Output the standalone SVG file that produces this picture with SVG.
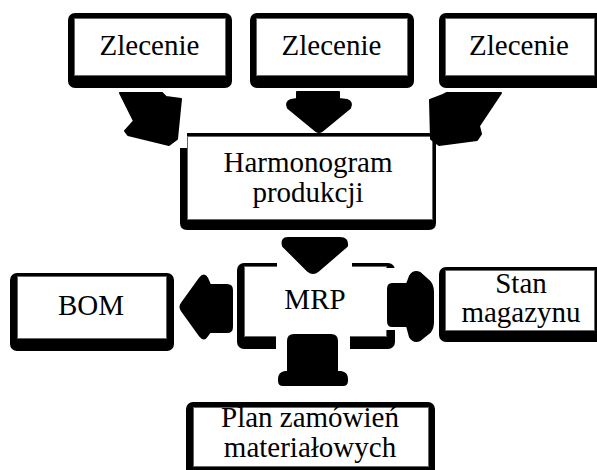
<svg xmlns="http://www.w3.org/2000/svg" width="597" height="470" viewBox="0 0 597 470">
<style>
.sh{fill:#000}
.in{fill:#fff;stroke:#666;stroke-width:1}
.er{fill:#fff}
.t{font-family:'Liberation Serif','DejaVu Serif',serif;font-size:29px;fill:#000;text-anchor:middle}
.ar{fill:#000;stroke:#000;stroke-width:2;stroke-linejoin:round}
</style>
<rect width="597" height="470" fill="#fff"/>
<g id="zlecenie1">
<rect class="sh" x="68" y="13" width="164" height="75" rx="7"/>
<rect class="in" x="74.5" y="18.5" width="151" height="57"/>
<text class="t" x="149.5" y="55" font-family="Liberation Serif, serif">Zlecenie</text>
</g>
<g id="zlecenie2">
<rect class="sh" x="250" y="13" width="164" height="75" rx="7"/>
<rect class="in" x="256.5" y="18.5" width="151" height="57"/>
<text class="t" x="331.5" y="55">Zlecenie</text>
</g>
<g id="zlecenie3">
<rect class="sh" x="439" y="13" width="165" height="75" rx="7"/>
<rect class="in" x="445.5" y="18.5" width="149" height="57"/>
<text class="t" x="519" y="55">Zlecenie</text>
</g>
<g id="harmonogram">
<path class="sh" d="M187,133 L429,133 Q436,133 436,140 L436,223 Q436,230 429,230 L187,230 Q180,230 180,223 L180,148 L187,148 Z"/>
<rect class="in" x="187.5" y="136.5" width="245" height="83"/>
<text class="t" x="308" y="172">Harmonogram</text>
<text class="t" x="308" y="202">produkcji</text>
</g>
<g id="mrp">
<rect class="sh" x="237" y="263" width="158" height="86" rx="7"/>
<rect class="in" x="244.5" y="266.5" width="142" height="70"/>
<rect class="er" x="277" y="258" width="75" height="10"/>
<rect class="er" x="276" y="334" width="74" height="18"/>
<rect class="er" x="386" y="268" width="12" height="62"/>
<text class="t" x="315" y="309">MRP</text>
</g>
<g id="bom">
<rect class="sh" x="10" y="273" width="164" height="78" rx="7"/>
<rect class="in" x="17.5" y="276.5" width="149" height="62"/>
<text class="t" x="91" y="315">BOM</text>
</g>
<g id="stan">
<rect class="sh" x="439" y="267" width="165" height="75" rx="7"/>
<rect class="in" x="445.5" y="270.5" width="149" height="60"/>
<text class="t" x="521" y="293">Stan</text>
<text class="t" x="521" y="322">magazynu</text>
</g>
<g id="plan">
<rect class="sh" x="186" y="402" width="249" height="80" rx="7"/>
<rect class="in" x="193.5" y="407.5" width="235" height="59"/>
<text class="t" x="310" y="427">Plan zamówień</text>
<text class="t" x="310" y="457">materiałowych</text>
</g>
<g id="connectors">
<path class="ar" d="M120,93 L162,93 L166,97 L181,99 L177,139 L169,145 L128,135 L125,131 L134,121 Z"/>
<path class="ar" d="M297,92 L339,92 L339,99 L347,100 Q353,102 350,108 L322,131 Q319,133 316,131 L288,108 Q285,102 291,100 L297,99 Z"/>
<path class="ar" d="M447,93 L501,93 L479,126 L481,134 L477,140 L439,145 L431,139 L430,100 L443,95 Z"/>
<path class="ar" d="M288,238 L340,238 Q348,238 347,246 L318,271 Q313,275 308,271 L283,246 Q281,238 288,238 Z"/>
<path class="ar" d="M232,290 Q232,285 227,285 L210,285 L207,278 Q204,273 200,278 L182,303 Q179,307 182,311 L200,336 Q204,341 207,336 L210,332 L227,332 Q232,332 232,327 Z"/>
<path class="ar" d="M392,284 L407,284 L410,276 Q414,270 420,273 L430,282 Q433,286 433,292 L433,322 Q433,328 430,332 L420,340 Q414,343 410,337 L407,326 L392,326 Q388,326 388,321 L388,289 Q388,284 392,284 Z"/>
<path class="ar" d="M294,335 L331,335 Q337,335 337,341 L337,372 L341,372 Q347,373 347,379 L347,381 Q347,385 343,385 L283,385 Q279,385 279,381 L279,379 Q279,373 285,372 L288,372 L288,341 Q288,335 294,335 Z"/>
</g>
</svg>
